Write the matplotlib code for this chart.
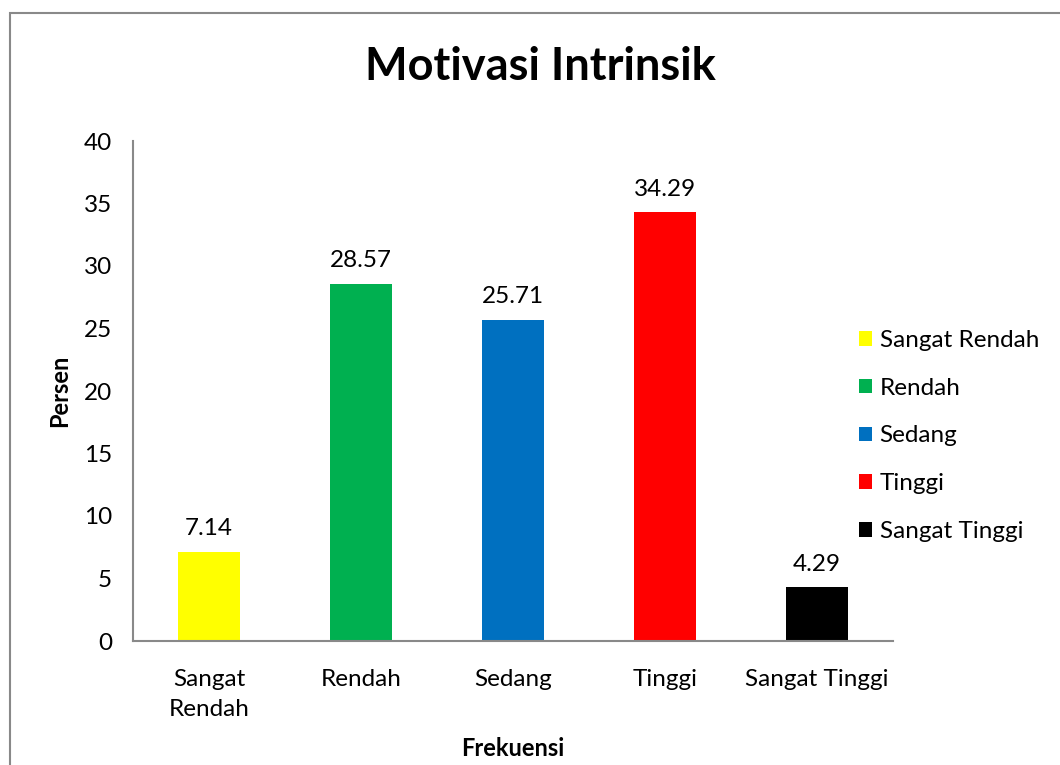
import matplotlib
matplotlib.use("Agg")
import matplotlib.pyplot as plt
from matplotlib.patches import Rectangle, Patch

categories = ["Sangat\nRendah", "Rendah", "Sedang", "Tinggi", "Sangat Tinggi"]
legend_labels = ["Sangat Rendah", "Rendah", "Sedang", "Tinggi", "Sangat Tinggi"]
values = [7.14, 28.57, 25.71, 34.29, 4.29]
value_labels = ["7.14", "28.57", "25.71", "34.29", "4.29"]
colors = ["#FFFF00", "#00B050", "#0070C0", "#FF0000", "#000000"]
yticks = [0, 5, 10, 15, 20, 25, 30, 35, 40]

plt.rcParams['font.family'] = ['Lato', 'DejaVu Sans']

W, H = 1060, 765
fig = plt.figure(figsize=(W / 100, H / 100), dpi=100)
ax = fig.add_axes([133 / W, 1 - 641 / H, (893 - 133) / W, (641 - 141) / H])

x = list(range(len(values)))
ax.bar(x, values, width=0.41, color=colors)
for xi, v, lab in zip(x, values, value_labels):
    ax.annotate(lab, (xi, v), xytext=(0, 9), textcoords="offset points",
                ha="center", va="bottom", fontsize=17.5)

ax.set_xlim(-0.5, len(values) - 0.5)
ax.set_ylim(0, 40)
ax.set_yticks(yticks)
ax.set_yticklabels([str(t) for t in yticks], fontsize=17.5)
ax.set_xticks(x)
ax.set_xticklabels(categories, fontsize=17.5, linespacing=1.55)
ax.tick_params(axis="both", length=0)
ax.tick_params(axis="x", pad=20)
ax.tick_params(axis="y", pad=15)
for s in ["top", "right"]:
    ax.spines[s].set_visible(False)
for s in ["left", "bottom"]:
    ax.spines[s].set_color("#898989")
    ax.spines[s].set_linewidth(1.5)

fig.text(540 / W, 1 - 67 / H, "Motivasi Intrinsik", ha="center", va="center",
         fontsize=32.5, fontweight="bold")
fig.text(60 / W, 1 - 391 / H, "Persen", ha="center", va="center",
         rotation=90, fontsize=17, fontweight="bold")
fig.text(513 / W, 1 - 748 / H, "Frekuensi", ha="center", va="center",
         fontsize=17, fontweight="bold")

handles = [Patch(facecolor=c, edgecolor="none") for c in colors]
leg = fig.legend(handles, legend_labels, loc="upper left",
                 bbox_to_anchor=(859 / W, 1 - 330 / H), frameon=False,
                 fontsize=17.5, handlelength=0.55, handleheight=0.55,
                 handletextpad=0.3, labelspacing=1.1, borderpad=0,
                 borderaxespad=0)

border = Rectangle((9.5 / W, -0.05), 1.2, 1 - 13 / H + 0.05, transform=fig.transFigure,
                   fill=False, edgecolor="#898989", linewidth=1.5)
fig.patches.append(border)

fig.savefig("out.png", dpi=100, facecolor="white")
